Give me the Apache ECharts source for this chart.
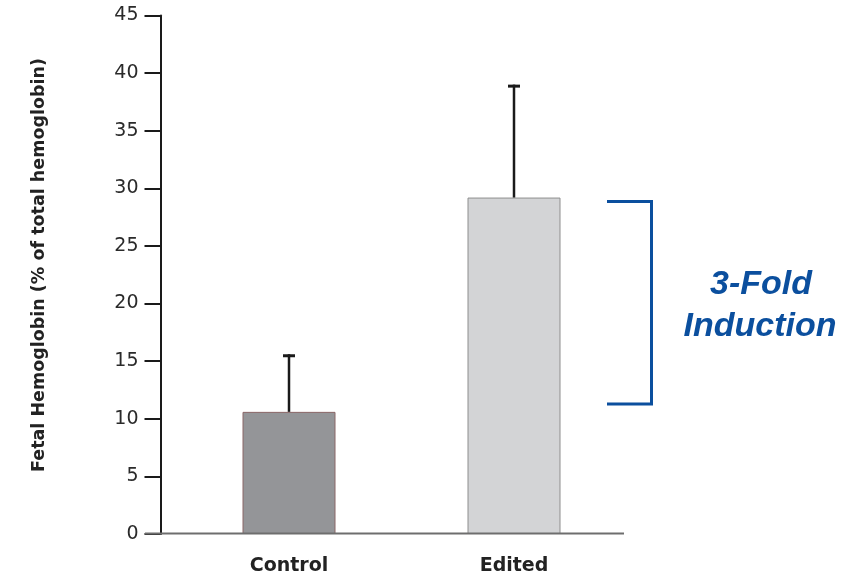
<!DOCTYPE html>
<html>
<head>
<meta charset="utf-8">
<script src="https://cdn.jsdelivr.net/npm/echarts@6/dist/echarts.min.js"></script>
<style>
  html, body { margin: 0; padding: 0; background: #ffffff; }
  #chart { width: 863px; height: 576px; }
</style>
</head>
<body>
<div id="chart"></div>
<script>
// Fetal hemoglobin levels, mean with upper error bar
const categories = ['Control', 'Edited'];
const meanValues = [10.6, 29.2];
const upperValues = [15.6, 39.0];
const yTickMin = 0;
const yTickMax = 45;
const yTickStep = 5;

const barFills = ['#949598', '#d3d4d6'];
const barEdges = ['#8a6666', '#8e8e8e'];

const chart = echarts.init(document.getElementById('chart'), null, { renderer: 'canvas' });

const errorData = categories.map((c, i) => [i, upperValues[i], meanValues[i]]);

chart.setOption({
  animation: false,
  backgroundColor: '#ffffff',
  grid: { left: 176.5, right: 236.5, top: 15.5, bottom: 42 },
  xAxis: {
    type: 'category',
    data: categories,
    axisLine: { show: false },
    axisTick: { show: false },
    axisLabel: {
      margin: 23,
      color: '#222222',
      fontFamily: 'DejaVu Sans',
      fontWeight: 'bold',
      fontSize: 19
    }
  },
  yAxis: {
    type: 'value',
    min: yTickMin,
    max: yTickMax,
    interval: yTickStep,
    offset: 16,
    splitLine: { show: false },
    axisLine: { show: true, lineStyle: { color: '#1a1a1a', width: 2 } },
    axisTick: { show: true, length: 16, lineStyle: { color: '#1a1a1a', width: 2 } },
    axisLabel: {
      margin: 22,
      color: '#2a2a2a',
      fontFamily: 'DejaVu Sans',
      fontSize: 19
    }
  },
  series: [
    {
      type: 'bar',
      barWidth: 93,
      data: meanValues.map((v, i) => ({
        value: v,
        itemStyle: { color: barFills[i], borderColor: barEdges[i], borderWidth: 1 }
      }))
    },
    {
      type: 'custom',
      z: 3,
      data: errorData,
      renderItem: function (params, api) {
        const x = api.value(0);
        const top = api.coord([x, api.value(1)]);
        const bottom = api.coord([x, api.value(2)]);
        return {
          type: 'group',
          children: [
            {
              type: 'line',
              shape: { x1: top[0], y1: top[1], x2: bottom[0], y2: bottom[1] },
              style: { stroke: '#1a1a1a', lineWidth: 2.5 }
            },
            {
              type: 'line',
              shape: { x1: top[0] - 6, y1: top[1] + 1.5, x2: top[0] + 6, y2: top[1] + 1.5 },
              style: { stroke: '#1a1a1a', lineWidth: 3 }
            }
          ]
        };
      }
    }
  ],
  graphic: [
    {
      // baseline extending past the plot area
      type: 'line',
      z: 10,
      shape: { x1: 145, y1: 533.5, x2: 624, y2: 533.5 },
      style: { stroke: '#6e6e6e', lineWidth: 2 }
    },
    {
      type: 'text',
      x: 39,
      y: 265,
      rotation: Math.PI / 2,
      style: {
        text: 'Fetal Hemoglobin (% of total hemoglobin)',
        fill: '#222222',
        font: 'bold 17.5px "DejaVu Sans"',
        align: 'center',
        verticalAlign: 'middle'
      }
    },
    {
      // bracket spanning the increase
      type: 'polyline',
      shape: { points: [[607, 201.5], [651.5, 201.5], [651.5, 404], [607, 404]] },
      style: { stroke: '#0b4f9e', lineWidth: 3, fill: null }
    },
    {
      type: 'text',
      x: 761,
      y: 285,
      style: {
        text: '3-Fold',
        fill: '#0b4f9e',
        font: 'italic bold 34px "Liberation Sans"',
        align: 'center',
        verticalAlign: 'middle'
      }
    },
    {
      type: 'text',
      x: 760,
      y: 327,
      style: {
        text: 'Induction',
        fill: '#0b4f9e',
        font: 'italic bold 34px "Liberation Sans"',
        align: 'center',
        verticalAlign: 'middle'
      }
    }
  ]
});
</script>
</body>
</html>
